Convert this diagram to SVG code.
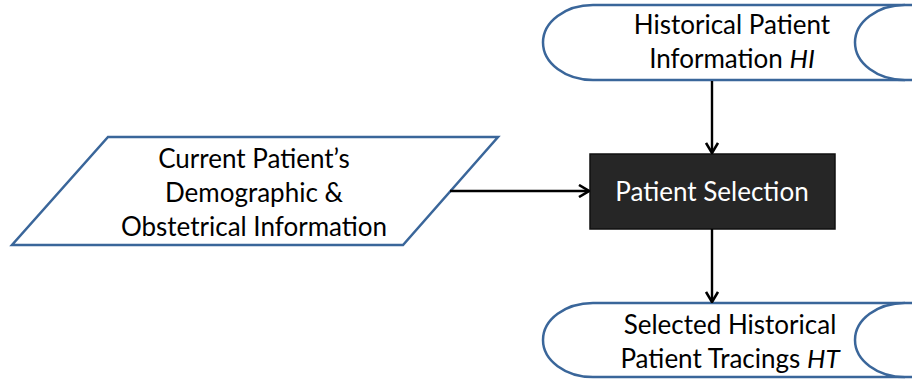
<svg xmlns="http://www.w3.org/2000/svg" width="912" height="381" viewBox="0 0 912 381">
  <defs>
    <marker id="chev" viewBox="0 0 12 14" refX="11" refY="7" markerWidth="12" markerHeight="14" markerUnits="userSpaceOnUse" orient="auto">
      <path d="M1,1 L11,7 L1,13" fill="none" stroke="#000" stroke-width="2.6" stroke-linejoin="miter"/>
    </marker>
  </defs>
  <style>
    .io { fill: #fff; stroke: #3a669a; stroke-width: 2.5; }
    .proc { fill: #262626; stroke: #111; stroke-width: 1.5; }
    .lbl { font-family: Lato, "Liberation Sans", sans-serif; font-size: 26px; fill: #000; text-anchor: middle; }
    .lbl-w { fill: #fff; }
    .conn { stroke: #000; stroke-width: 2.4; fill: none; marker-end: url(#chev); }
  </style>
  <rect width="912" height="381" fill="#fff"/>

  <!-- stored data: historical patient information -->
  <g id="historical-info">
    <path class="io" d="M593,5 L915,5 L915,80 L593,80 A50,37.5 0 0 1 593,5 Z"/>
    <path class="io" fill="none" d="M905,5 A50,37.5 0 0 0 905,80"/>
    <text class="lbl" x="732" y="34">Historical Patient</text>
    <text class="lbl" x="732" y="68">Information <tspan font-style="italic">HI</tspan></text>
  </g>

  <!-- input: current patient data -->
  <g id="current-patient">
    <polygon class="io" points="108,137 498,137 403,245 12,245"/>
    <text class="lbl" x="254" y="168">Current Patient’s</text>
    <text class="lbl" x="254" y="202">Demographic &amp;</text>
    <text class="lbl" x="254" y="236">Obstetrical Information</text>
  </g>

  <!-- process -->
  <g id="patient-selection">
    <rect class="proc" x="590" y="154" width="245" height="75"/>
    <text class="lbl lbl-w" x="712" y="201">Patient Selection</text>
  </g>

  <!-- stored data: selected historical tracings -->
  <g id="selected-tracings">
    <path class="io" d="M593,303 L915,303 L915,377 L593,377 A50,37 0 0 1 593,303 Z"/>
    <path class="io" fill="none" d="M905,303 A50,37 0 0 0 905,377"/>
    <text class="lbl" x="730" y="334">Selected Historical</text>
    <text class="lbl" x="730" y="368">Patient Tracings <tspan font-style="italic">HT</tspan></text>
  </g>

  <g id="connectors">
    <line class="conn" x1="712" y1="81" x2="712" y2="153"/>
    <line class="conn" x1="450" y1="191" x2="589" y2="191"/>
    <line class="conn" x1="712" y1="229" x2="712" y2="302"/>
  </g>
</svg>
